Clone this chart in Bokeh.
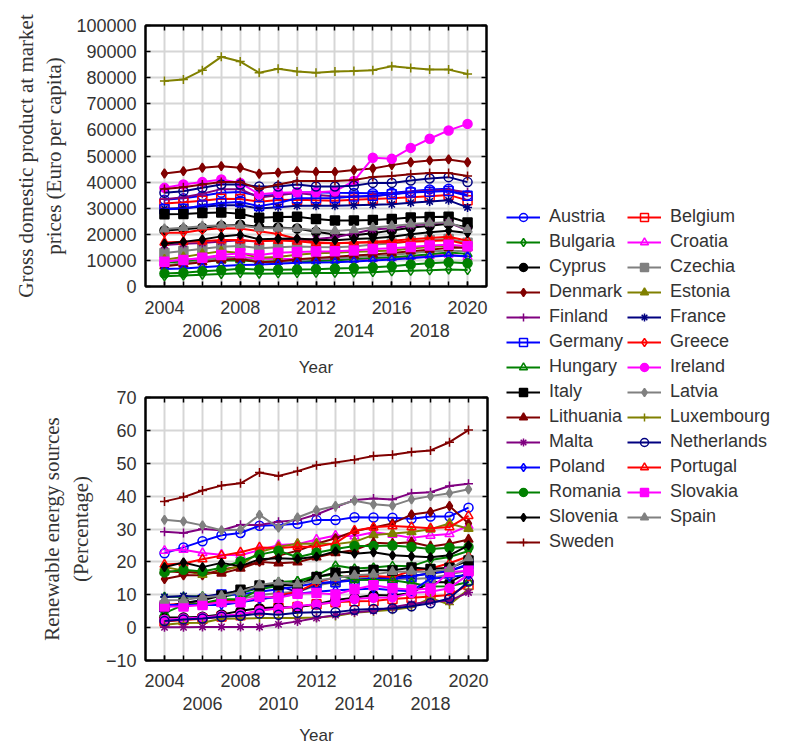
from bokeh.plotting import figure
from bokeh.models import (LinearAxis, FixedTicker, Legend, LegendItem, Range1d,
                          Grid, BasicTickFormatter)
from bokeh.layouts import row, column
from bokeh.embed import file_html
from bokeh.resources import INLINE

years = list(range(2004, 2021))
label_years_a = [2004, 2008, 2012, 2016, 2020]
label_years_b = [2006, 2010, 2014, 2018]
gdp_ticks = list(range(0, 100001, 10000))
res_ticks = list(range(-10, 71, 10))

countries = ["Austria", "Belgium", "Bulgaria", "Croatia", "Cyprus", "Czechia",
             "Denmark", "Estonia", "Finland", "France", "Germany", "Greece",
             "Hungary", "Ireland", "Italy", "Latvia", "Lithuania", "Luxembourg",
             "Malta", "Netherlands", "Poland", "Portugal", "Romania", "Slovakia",
             "Slovenia", "Spain", "Sweden"]

# GDP at market prices (Euro per capita)
gdp_austria = [33200, 33800, 34800, 35900, 36200, 34700, 35200, 36000, 36100, 35900, 35800, 35700, 35900, 36500, 37200, 37500, 35000]
gdp_belgium = [31800, 32300, 32900, 33600, 33500, 32500, 33100, 33200, 33000, 32900, 33200, 33500, 33800, 34200, 34600, 35100, 33000]
gdp_bulgaria = [3900, 4200, 4500, 4800, 5100, 4900, 5000, 5100, 5200, 5200, 5300, 5500, 5800, 6000, 6200, 6500, 6300]
gdp_croatia = [9800, 10200, 10700, 11200, 11400, 10600, 10500, 10500, 10300, 10300, 10300, 10600, 11000, 11400, 11800, 12300, 11300]
gdp_cyprus = [21500, 21900, 22500, 23300, 23700, 22800, 22600, 22200, 21000, 19900, 19600, 20400, 21500, 22500, 23300, 24000, 22700]
gdp_czechia = [12800, 13600, 14500, 15200, 15500, 14700, 15000, 15300, 15100, 15000, 15300, 16100, 16500, 17300, 17800, 18200, 16800]
gdp_denmark = [43300, 44200, 45500, 46100, 45500, 43200, 43600, 44200, 43900, 43900, 44600, 45200, 46500, 47600, 48300, 48700, 47600]
gdp_estonia = [10300, 11300, 12500, 13500, 12800, 11000, 11300, 12200, 12700, 12900, 13300, 13500, 13800, 14600, 15100, 15600, 15200]
gdp_finland = [33400, 34200, 35500, 37300, 37300, 34100, 35000, 35800, 35100, 34600, 34400, 34500, 35300, 36300, 36700, 37100, 36100]
gdp_france = [29800, 30100, 30600, 31100, 31100, 29900, 30400, 30900, 30900, 30900, 31100, 31300, 31500, 32100, 32600, 33000, 30300]
gdp_germany = [29600, 29800, 31000, 32000, 32400, 30800, 32000, 33800, 33800, 33900, 34500, 34800, 35300, 36000, 36300, 36600, 34800]
gdp_greece = [20600, 20600, 21700, 22300, 22200, 21200, 20100, 18200, 17000, 16600, 16900, 16900, 16900, 17100, 17400, 17700, 16100]
gdp_hungary = [9200, 9600, 10000, 10000, 10100, 9500, 9700, 9900, 9800, 10000, 10500, 10900, 11200, 11700, 12400, 13000, 12500]
gdp_ireland = [37800, 39100, 40000, 41000, 39700, 35300, 35900, 36100, 36100, 36500, 40400, 49300, 48900, 53100, 56600, 59800, 62300]
gdp_italy = [27700, 27800, 28200, 28400, 27900, 26300, 26600, 26700, 25900, 25300, 25300, 25500, 25900, 26400, 26600, 26700, 24500]
gdp_latvia = [8100, 8900, 9900, 11000, 10900, 9600, 9300, 9900, 10500, 10900, 11200, 11700, 12100, 12700, 13400, 13800, 13400]
gdp_lithuania = [7800, 8500, 9300, 10200, 10600, 9300, 9600, 10400, 10900, 11400, 11900, 12300, 12800, 13500, 14100, 14800, 14800]
gdp_luxembourg = [78700, 79300, 82900, 88000, 86200, 81900, 83400, 82400, 81900, 82400, 82600, 82900, 84400, 83700, 83100, 83100, 81400]
gdp_malta = [15900, 16400, 16700, 17200, 17700, 17200, 17800, 17900, 18200, 18900, 20300, 21800, 22300, 23400, 24000, 24500, 21500]
gdp_netherlands = [35900, 36500, 37800, 39100, 39100, 38300, 38300, 39100, 38300, 38300, 38600, 39700, 39700, 40600, 41400, 41900, 40000]
gdp_poland = [6700, 6900, 7400, 7900, 8200, 8400, 8700, 9100, 9200, 9300, 9600, 10000, 10300, 10800, 11400, 11900, 11600]
gdp_portugal = [16900, 17100, 17300, 17800, 17800, 17300, 17600, 17300, 16700, 16600, 16800, 17100, 17500, 18100, 18600, 19100, 17500]
gdp_romania = [5000, 5300, 5800, 6200, 6800, 6500, 6400, 6500, 6600, 6900, 7100, 7400, 7800, 8400, 8900, 9300, 8900]
gdp_slovakia = [9500, 10200, 11000, 12100, 12700, 12100, 12900, 13200, 13400, 13500, 13800, 14400, 14700, 15100, 15700, 16000, 15400]
gdp_slovenia = [16400, 17100, 18000, 19200, 19800, 18100, 18300, 18400, 17900, 17700, 18200, 18500, 19100, 20000, 20800, 21400, 20500]
gdp_spain = [22000, 22500, 23100, 23500, 23400, 22400, 22300, 22200, 21600, 21300, 21700, 22600, 23200, 23900, 24300, 24600, 21800]
gdp_sweden = [37400, 38000, 39100, 40000, 40000, 37400, 39100, 40400, 40400, 40400, 40800, 42000, 42300, 43000, 43500, 43500, 42300]

# Renewable energy sources (Percentage)
res_austria = [22.6, 24.4, 26.3, 28.1, 28.8, 31.0, 31.2, 31.6, 32.7, 32.7, 33.6, 33.5, 33.4, 33.1, 33.8, 33.8, 36.5]
res_belgium = [1.9, 2.3, 2.7, 3.4, 3.8, 5.2, 6.0, 6.3, 7.1, 7.7, 8.0, 8.1, 8.7, 9.1, 9.5, 9.9, 13.0]
res_bulgaria = [9.4, 9.4, 9.6, 9.2, 10.5, 12.0, 13.9, 14.2, 15.8, 18.9, 18.0, 18.3, 18.8, 18.7, 20.6, 21.5, 23.3]
res_croatia = [23.4, 23.7, 22.7, 22.2, 22.0, 23.6, 25.1, 25.4, 26.8, 28.0, 27.8, 29.0, 28.3, 27.3, 28.0, 28.5, 31.0]
res_cyprus = [3.1, 3.1, 3.3, 4.0, 5.1, 5.9, 6.2, 6.2, 7.1, 8.4, 9.1, 9.9, 9.8, 10.5, 13.9, 13.8, 16.9]
res_czechia = [6.8, 7.1, 7.4, 7.9, 8.7, 9.9, 10.5, 10.9, 12.8, 13.9, 15.1, 15.1, 14.9, 14.8, 15.1, 16.2, 17.3]
res_denmark = [14.8, 15.9, 15.9, 17.7, 18.6, 20.0, 21.9, 23.4, 25.5, 27.2, 29.3, 30.5, 31.7, 34.4, 35.2, 37.0, 31.7]
res_estonia = [18.4, 17.4, 16.1, 17.1, 18.9, 23.0, 24.6, 25.5, 25.6, 25.4, 26.1, 28.2, 28.6, 29.1, 29.9, 31.7, 30.1]
res_finland = [29.2, 28.8, 30.0, 29.6, 31.3, 31.2, 32.2, 32.7, 34.4, 36.7, 38.8, 39.3, 39.0, 40.9, 41.2, 43.1, 43.8]
res_france = [9.3, 9.6, 9.3, 10.3, 11.2, 12.2, 12.7, 10.8, 13.3, 14.0, 14.4, 15.0, 15.6, 15.8, 16.4, 17.2, 19.1]
res_germany = [6.2, 7.2, 8.5, 10.1, 10.1, 10.9, 11.7, 12.5, 13.6, 13.8, 14.4, 14.9, 14.9, 15.5, 16.7, 17.3, 19.3]
res_greece = [6.9, 7.3, 7.3, 8.2, 8.0, 8.5, 9.8, 10.9, 13.7, 15.3, 15.7, 15.7, 15.4, 17.3, 18.0, 19.6, 21.7]
res_hungary = [4.4, 6.9, 7.4, 8.6, 8.6, 11.7, 12.7, 14.0, 15.5, 16.2, 14.6, 14.5, 14.4, 13.6, 12.5, 12.6, 13.9]
res_ireland = [2.4, 2.8, 3.1, 3.6, 4.1, 5.2, 5.8, 6.6, 7.1, 7.7, 8.7, 9.1, 9.2, 10.5, 10.9, 12.0, 16.2]
res_italy = [6.3, 7.5, 8.3, 9.8, 11.5, 12.8, 13.0, 12.9, 15.4, 16.7, 17.1, 17.5, 17.4, 18.3, 17.8, 18.2, 20.4]
res_latvia = [32.8, 32.3, 31.1, 29.6, 29.8, 34.3, 30.4, 33.5, 35.7, 37.0, 38.6, 37.5, 37.1, 39.0, 40.0, 40.9, 42.1]
res_lithuania = [17.2, 16.8, 16.9, 16.5, 18.0, 20.0, 19.6, 19.9, 21.4, 22.7, 23.6, 25.8, 25.6, 26.0, 24.7, 25.5, 26.8]
res_luxembourg = [0.9, 1.4, 1.5, 2.7, 2.8, 2.9, 2.9, 2.9, 3.1, 3.5, 4.5, 5.0, 5.4, 6.2, 9.0, 7.0, 11.7]
res_malta = [0.1, 0.1, 0.2, 0.2, 0.2, 0.2, 1.0, 1.9, 2.9, 3.8, 4.7, 5.1, 6.2, 7.2, 7.9, 8.2, 10.7]
res_netherlands = [2.0, 2.5, 2.8, 3.3, 3.6, 4.3, 3.9, 4.5, 4.7, 4.7, 5.4, 5.7, 5.8, 6.5, 7.4, 8.9, 14.0]
res_poland = [6.9, 6.9, 6.9, 6.9, 7.7, 8.7, 9.3, 10.3, 10.9, 11.4, 11.6, 11.9, 11.4, 11.1, 14.9, 15.4, 16.1]
res_portugal = [19.2, 19.5, 20.8, 21.9, 22.9, 24.4, 24.2, 24.6, 24.6, 25.7, 29.5, 30.5, 30.9, 30.6, 30.2, 30.6, 34.0]
res_romania = [16.8, 17.6, 17.1, 18.2, 20.2, 22.2, 23.4, 21.4, 22.8, 23.9, 24.8, 24.8, 25.0, 24.5, 23.9, 24.3, 24.5]
res_slovakia = [6.4, 6.4, 6.9, 7.8, 7.7, 9.4, 9.1, 10.3, 10.5, 10.1, 11.7, 12.9, 12.0, 11.5, 11.9, 16.9, 17.3]
res_slovenia = [18.4, 19.8, 18.4, 19.7, 18.7, 20.8, 21.1, 20.9, 21.6, 23.2, 22.5, 22.9, 22.0, 21.7, 21.4, 22.0, 25.0]
res_spain = [8.3, 8.4, 9.2, 9.7, 10.8, 13.0, 13.8, 13.2, 14.3, 15.1, 15.9, 16.2, 17.0, 17.1, 17.0, 17.9, 21.2]
res_sweden = [38.4, 39.7, 41.7, 43.2, 43.9, 47.2, 46.1, 47.6, 49.4, 50.2, 51.1, 52.2, 52.6, 53.4, 53.9, 56.4, 60.1]

gdp_series = [gdp_austria, gdp_belgium, gdp_bulgaria, gdp_croatia, gdp_cyprus, gdp_czechia,
              gdp_denmark, gdp_estonia, gdp_finland, gdp_france, gdp_germany, gdp_greece,
              gdp_hungary, gdp_ireland, gdp_italy, gdp_latvia, gdp_lithuania, gdp_luxembourg,
              gdp_malta, gdp_netherlands, gdp_poland, gdp_portugal, gdp_romania, gdp_slovakia,
              gdp_slovenia, gdp_spain, gdp_sweden]
res_series = [res_austria, res_belgium, res_bulgaria, res_croatia, res_cyprus, res_czechia,
              res_denmark, res_estonia, res_finland, res_france, res_germany, res_greece,
              res_hungary, res_ireland, res_italy, res_latvia, res_lithuania, res_luxembourg,
              res_malta, res_netherlands, res_poland, res_portugal, res_romania, res_slovakia,
              res_slovenia, res_spain, res_sweden]

# styles
BLUE, RED, GREEN, MAG, BLACK, GRAY, DRED, OLIVE, PURP, NAVY = (
    "#0000ff", "#ff0000", "#008000", "#ff00ff", "#000000", "#808080",
    "#800000", "#808000", "#800080", "#000080")
styles = [
    (BLUE, "circle", False), (RED, "square", False), (GREEN, "diamond", False),
    (MAG, "triangle", False), (BLACK, "circle", True), (GRAY, "square", True),
    (DRED, "diamond", True), (OLIVE, "triangle", True), (PURP, "cross", False),
    (NAVY, "asterisk", False), (BLUE, "square", False), (RED, "diamond", False),
    (GREEN, "triangle", False), (MAG, "circle", True), (BLACK, "square", True),
    (GRAY, "diamond", True), (DRED, "triangle", True), (OLIVE, "cross", False),
    (PURP, "asterisk", False), (NAVY, "circle", False), (BLUE, "diamond", False),
    (RED, "triangle", False), (GREEN, "circle", True), (MAG, "square", True),
    (BLACK, "diamond", True), (GRAY, "triangle", True), (DRED, "cross", False),
]

TXT = "#333333"
SANS = "Liberation Sans"
SERIF = "Liberation Serif"


def style_axis(ax):
    ax.axis_line_width = 2
    ax.axis_line_color = "black"
    ax.major_tick_in = 5
    ax.major_tick_out = 0
    ax.major_tick_line_width = 1.5
    ax.minor_tick_in = 5
    ax.minor_tick_out = 0
    ax.minor_tick_line_width = 1.5
    ax.minor_tick_line_color = "black"
    ax.major_label_text_font = SANS
    ax.major_label_text_font_size = "18px"
    ax.major_label_text_color = TXT


def tick_only_axis(ticks):
    # an axis that draws only inner ticks (as minor ticks) and no labels
    ax = LinearAxis(ticker=FixedTicker(ticks=[], minor_ticks=ticks))
    style_axis(ax)
    ax.major_label_standoff = 0
    return ax


def make_chart(series, yticks, ymin, ymax, ylabel, fw, fh, left, top, bottom,
               right, ystand, sa, sb, sy):
    p = figure(frame_width=fw, frame_height=fh,
               x_range=Range1d(2003, 2021), y_range=Range1d(ymin, ymax),
               output_backend="svg", toolbar_location=None,
               x_axis_location=None, y_axis_location=None,
               min_border_left=left, min_border_top=top,
               min_border_bottom=bottom, min_border_right=right)
    p.outline_line_color = "black"
    p.outline_line_width = 2
    p.add_layout(Grid(dimension=0, ticker=FixedTicker(ticks=years),
                      grid_line_color="#d6d6d6", grid_line_width=2))
    p.add_layout(Grid(dimension=1, ticker=FixedTicker(ticks=yticks),
                      grid_line_color="#d6d6d6", grid_line_width=2))

    ya = LinearAxis(ticker=FixedTicker(ticks=yticks),
                    formatter=BasicTickFormatter(use_scientific=False),
                    axis_label=ylabel)
    style_axis(ya)
    ya.major_label_standoff = 9
    ya.axis_label_text_font = SERIF
    ya.axis_label_text_font_size = "21px"
    ya.axis_label_text_font_style = "normal"
    ya.axis_label_text_color = TXT
    ya.axis_label_standoff = ystand
    p.add_layout(ya, "left")

    xa = LinearAxis(ticker=FixedTicker(ticks=label_years_a, minor_ticks=years))
    style_axis(xa)
    xa.major_label_standoff = sa
    p.add_layout(xa, "below")

    xb = LinearAxis(ticker=FixedTicker(ticks=label_years_b), axis_label="Year")
    style_axis(xb)
    xb.axis_line_color = None
    xb.major_tick_line_color = None
    xb.minor_tick_line_color = None
    xb.major_label_standoff = sb
    xb.axis_label_text_font = SANS
    xb.axis_label_text_font_size = "17px"
    xb.axis_label_text_font_style = "normal"
    xb.axis_label_text_color = TXT
    xb.axis_label_standoff = sy
    p.add_layout(xb, "below")

    p.add_layout(tick_only_axis(years), "above")
    p.add_layout(tick_only_axis(yticks), "right")

    for vals, (col, mk, filled) in zip(series, styles):
        p.line(years, vals, line_color=col, line_width=2)
        p.scatter(years, vals, marker=mk, size=9, line_color=col, line_width=1.5,
                  fill_color=col if filled else None)
    return p


p1 = make_chart(gdp_series, gdp_ticks, 0, 100000,
                "Gross domestic product at market\nprices (Euro per capita)",
                341, 261, 143, 25, 99, 12, 7, 14, 7, 18)
p2 = make_chart(res_series, res_ticks, -10, 70,
                "Renewable energy sources\n(Percentage)",
                342, 263, 145, 12, 86, 9, 10, 13, 7, 13)

pleg = figure(width=285, height=745, output_backend="svg", toolbar_location=None,
              x_axis_location=None, y_axis_location=None,
              x_range=Range1d(0, 1), y_range=Range1d(0, 1),
              min_border_left=10, min_border_top=206, min_border_right=0,
              min_border_bottom=0)
pleg.outline_line_color = None
pleg.xgrid.visible = False
pleg.ygrid.visible = False
nan = float("nan")
items = []
for name, (col, mk, filled) in zip(countries, styles):
    r1 = pleg.line([nan], [nan], line_color=col, line_width=2)
    r2 = pleg.scatter([nan], [nan], marker=mk, size=7, line_color=col, line_width=1.5,
                      fill_color=col if filled else None)
    items.append(LegendItem(label=name, renderers=[r1, r2]))
legend = Legend(items=items, orientation="horizontal", ncols=2,
                location="top_left", margin=0, padding=5, spacing=4,
                glyph_width=34, glyph_height=20, label_height=20,
                label_standoff=9, border_line_color=None,
                background_fill_alpha=0,
                label_text_font=SANS, label_text_font_size="18px",
                label_text_color=TXT)
pleg.add_layout(legend, "center")

layout = row(column(p1, p2), pleg)
open("out.html", "w").write(file_html(layout, INLINE))
